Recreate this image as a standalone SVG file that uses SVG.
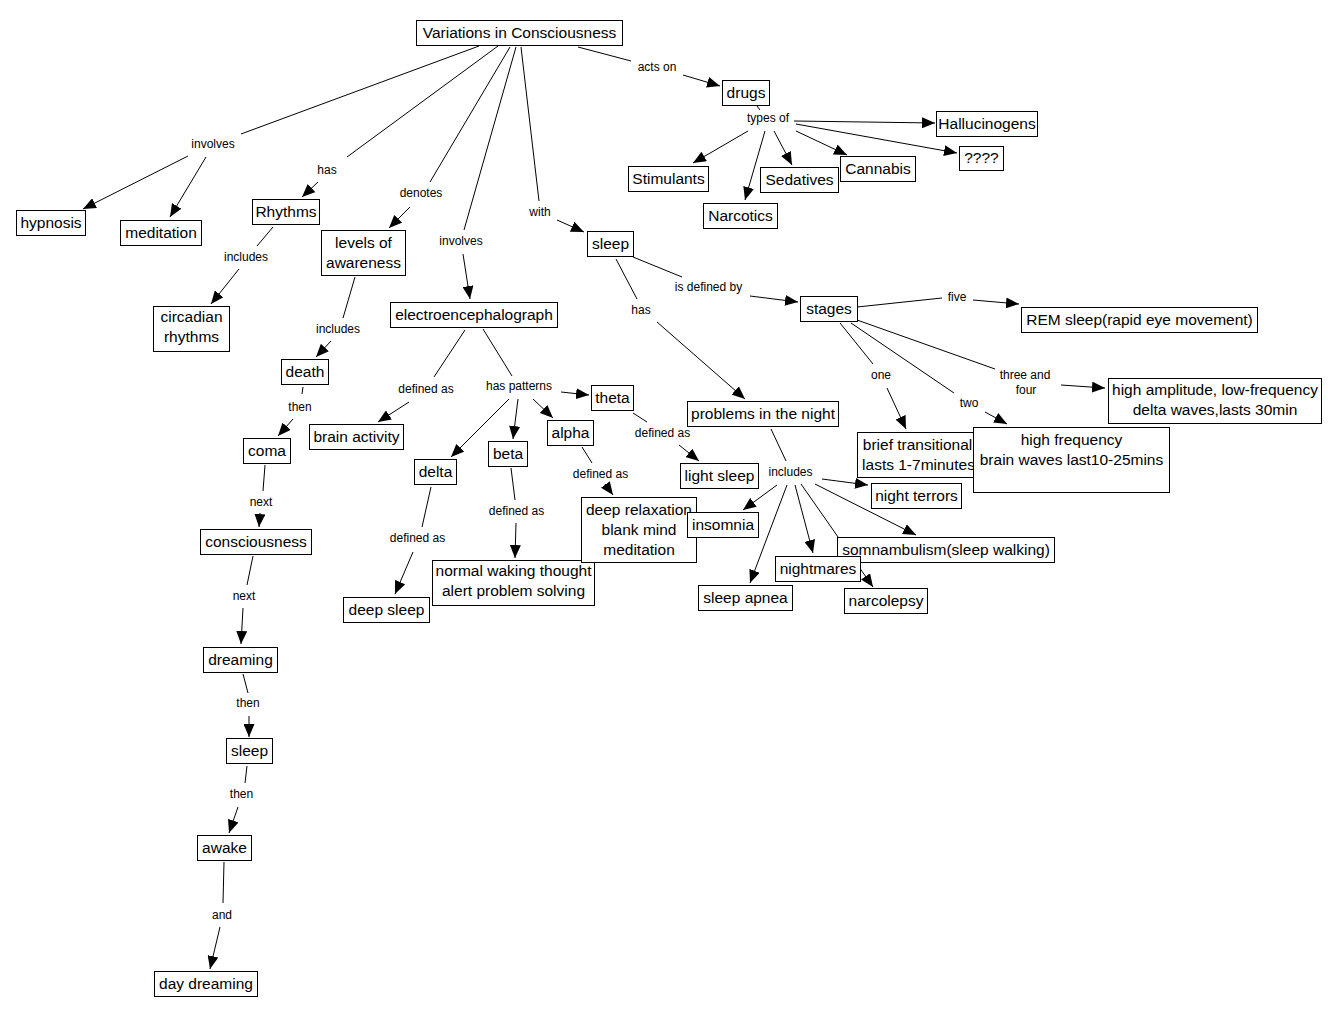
<svg xmlns="http://www.w3.org/2000/svg" width="1330" height="1016" viewBox="0 0 1330 1016">
<style>
.n rect{fill:#fff;stroke:#000;stroke-width:1}
.n text{font-family:"Liberation Sans",Arial,sans-serif;font-size:15.5px;text-anchor:middle;fill:#000;transform:translateY(-1px)}
#connectors line{stroke:#000;stroke-width:1;fill:none}
#connectors line.a{marker-end:url(#ah)}
#connectors text{font-family:"Liberation Sans",Arial,sans-serif;font-size:12px;text-anchor:middle;fill:#000;transform:translateY(-0.5px)}
</style>
<defs>
<marker id="ah" markerUnits="userSpaceOnUse" markerWidth="13" markerHeight="11" refX="13" refY="5.5" orient="auto"><path d="M0,0 L13,5.5 L0,11 z" fill="#000"/></marker>
</defs>
<rect width="1330" height="1016" fill="#fff"/>
<g id="connectors">
<line x1="479" y1="46" x2="241" y2="134"/><line class="a" x1="188" y1="156" x2="83" y2="209"/><line class="a" x1="206" y1="157" x2="170" y2="217"/><text x="213" y="148">involves</text>
<line x1="498" y1="46" x2="347" y2="157"/><line class="a" x1="318" y1="182" x2="302" y2="197"/><text x="327" y="174">has</text>
<line x1="510" y1="47" x2="430" y2="182"/><line class="a" x1="410" y1="207" x2="389" y2="228"/><text x="421" y="197.5">denotes</text>
<line x1="516" y1="47" x2="464" y2="230"/><line class="a" x1="463" y1="254" x2="470" y2="299"/><text x="461" y="245.5">involves</text>
<line x1="521" y1="47" x2="539" y2="201"/><line class="a" x1="557" y1="220" x2="584" y2="232"/><text x="540" y="216">with</text>
<line x1="578" y1="47" x2="631" y2="61"/><line class="a" x1="683" y1="75" x2="720" y2="86"/><text x="657" y="71">acts on</text>
<line x1="757" y1="106" x2="760" y2="110"/><text x="768" y="122">types of</text>
<line class="a" x1="748" y1="131" x2="693" y2="163"/><line class="a" x1="765" y1="131" x2="745" y2="200"/><line class="a" x1="774" y1="131" x2="792" y2="165"/><line class="a" x1="796" y1="131" x2="847" y2="155"/><line class="a" x1="794" y1="121" x2="935" y2="123"/><line class="a" x1="796" y1="124" x2="957" y2="153"/>
<line x1="273" y1="227" x2="257" y2="246"/><line class="a" x1="239" y1="269" x2="211" y2="304"/><text x="246" y="261">includes</text>
<line x1="355" y1="277" x2="343" y2="318"/><line class="a" x1="331" y1="341" x2="316" y2="357"/><text x="338" y="333">includes</text>
<line x1="303" y1="387" x2="302" y2="394"/><line class="a" x1="293" y1="419" x2="278" y2="436"/><text x="300" y="411">then</text>
<line x1="265" y1="465" x2="263" y2="491"/><line class="a" x1="260" y1="513" x2="259" y2="527"/><text x="261" y="506">next</text>
<line x1="253" y1="556" x2="247" y2="585"/><line class="a" x1="243" y1="608" x2="241" y2="644"/><text x="244" y="600">next</text>
<line x1="243" y1="674" x2="248" y2="693"/><line class="a" x1="249" y1="716" x2="249" y2="737"/><text x="248" y="707.5">then</text>
<line x1="247" y1="766" x2="245" y2="783"/><line class="a" x1="238" y1="807" x2="229" y2="833"/><text x="241.5" y="798.5">then</text>
<line x1="224" y1="862" x2="223" y2="903"/><line class="a" x1="220" y1="927" x2="210" y2="969"/><text x="222" y="919">and</text>
<line x1="465" y1="330" x2="434" y2="377"/><line class="a" x1="409" y1="402" x2="378" y2="422"/><text x="426" y="393">defined as</text>
<line x1="483" y1="329" x2="512" y2="376"/><text x="519" y="390">has patterns</text>
<line class="a" x1="561" y1="392" x2="589" y2="395"/><line class="a" x1="533" y1="399" x2="553" y2="418"/><line class="a" x1="518" y1="399" x2="513" y2="439"/><line class="a" x1="509" y1="399" x2="451" y2="457"/>
<line x1="633" y1="413" x2="647" y2="422"/><line class="a" x1="679" y1="445" x2="699" y2="461"/><text x="662.5" y="437">defined as</text>
<line x1="582" y1="447" x2="592" y2="463"/><line class="a" x1="605" y1="484" x2="613" y2="495"/><text x="600.5" y="478.5">defined as</text>
<line x1="511" y1="468" x2="515" y2="500"/><line class="a" x1="516" y1="523" x2="515" y2="558"/><text x="516.5" y="515">defined as</text>
<line x1="431" y1="487" x2="422" y2="527"/><line class="a" x1="413" y1="552" x2="395" y2="594"/><text x="417.5" y="542.5">defined as</text>
<line x1="616" y1="259" x2="637" y2="299"/><line class="a" x1="657" y1="322" x2="745" y2="399"/><text x="641" y="314">has</text>
<line x1="633" y1="257" x2="682" y2="277"/><line class="a" x1="750" y1="296" x2="798" y2="302"/><text x="708.5" y="291.5">is defined by</text>
<line x1="857" y1="307" x2="942" y2="298"/><line class="a" x1="973" y1="300" x2="1019" y2="304"/><text x="957" y="301.5">five</text>
<line x1="840" y1="323" x2="873" y2="364"/><line class="a" x1="887" y1="388" x2="906" y2="429"/><text x="881" y="379">one</text>
<line x1="851" y1="323" x2="954" y2="393"/><line class="a" x1="985" y1="412" x2="1007" y2="424"/><text x="969" y="407">two</text>
<line x1="857" y1="320" x2="995" y2="369"/><line class="a" x1="1061" y1="385" x2="1105" y2="388"/><text x="1025" y="379">three and</text><text x="1026" y="394">four</text>
<line x1="771" y1="429" x2="786" y2="461"/><text x="790.5" y="476">includes</text>
<line class="a" x1="822" y1="479" x2="868" y2="485"/><line class="a" x1="777" y1="485" x2="743" y2="510"/><line class="a" x1="787" y1="485" x2="750" y2="583"/><line class="a" x1="795" y1="485" x2="813" y2="553"/><line class="a" x1="801" y1="484" x2="873" y2="587"/><line class="a" x1="815" y1="484" x2="916" y2="535"/>
</g>
<g id="n-variations" class="n"><rect x="416.5" y="20.5" width="206" height="25"/><text x="519.5" y="38.5">Variations in Consciousness</text></g>
<g id="n-drugs" class="n"><rect x="722.5" y="80.5" width="47" height="25"/><text x="746" y="98.5">drugs</text></g>
<g id="n-stimulants" class="n"><rect x="628.5" y="166.5" width="80" height="25"/><text x="668.5" y="184.5">Stimulants</text></g>
<g id="n-narcotics" class="n"><rect x="703.5" y="203.5" width="74" height="25"/><text x="740.5" y="221.5">Narcotics</text></g>
<g id="n-sedatives" class="n"><rect x="760.5" y="167.5" width="78" height="25"/><text x="799.5" y="185.5">Sedatives</text></g>
<g id="n-cannabis" class="n"><rect x="840.5" y="156.5" width="75" height="25"/><text x="878" y="174.5">Cannabis</text></g>
<g id="n-hallucinogens" class="n"><rect x="936.5" y="111.5" width="101" height="25"/><text x="987" y="129.5">Hallucinogens</text></g>
<g id="n-unknown" class="n"><rect x="959.5" y="146.5" width="44" height="24"/><text x="981.5" y="164">????</text></g>
<g id="n-hypnosis" class="n"><rect x="16.5" y="210.5" width="69" height="25"/><text x="51" y="228.5">hypnosis</text></g>
<g id="n-meditation" class="n"><rect x="120.5" y="220.5" width="81" height="25"/><text x="161" y="238.5">meditation</text></g>
<g id="n-rhythms" class="n"><rect x="252.5" y="199.5" width="67" height="25"/><text x="286" y="217.5">Rhythms</text></g>
<g id="n-levels" class="n"><rect x="321.5" y="230.5" width="84" height="45"/><text x="363.5" y="248.5">levels of</text><text x="363.5" y="268.5">awareness</text></g>
<g id="n-circadian" class="n"><rect x="153.5" y="306.5" width="76" height="45"/><text x="191.5" y="322.5">circadian</text><text x="191.5" y="342.5">rhythms</text></g>
<g id="n-eeg" class="n"><rect x="390.5" y="302.5" width="167" height="25"/><text x="474" y="320.5">electroencephalograph</text></g>
<g id="n-death" class="n"><rect x="281.5" y="359.5" width="47" height="25"/><text x="305" y="377.5">death</text></g>
<g id="n-brainactivity" class="n"><rect x="309.5" y="424.5" width="94" height="25"/><text x="356.5" y="442.5">brain activity</text></g>
<g id="n-coma" class="n"><rect x="243.5" y="438.5" width="47" height="25"/><text x="267" y="456.5">coma</text></g>
<g id="n-consciousness" class="n"><rect x="200.5" y="529.5" width="111" height="25"/><text x="256" y="547.5">consciousness</text></g>
<g id="n-dreaming" class="n"><rect x="203.5" y="647.5" width="74" height="25"/><text x="240.5" y="665.5">dreaming</text></g>
<g id="n-sleep2" class="n"><rect x="226.5" y="738.5" width="46" height="25"/><text x="249.5" y="756.5">sleep</text></g>
<g id="n-awake" class="n"><rect x="197.5" y="835.5" width="54" height="25"/><text x="224.5" y="853.5">awake</text></g>
<g id="n-daydreaming" class="n"><rect x="154.5" y="971.5" width="103" height="25"/><text x="206" y="989.5">day dreaming</text></g>
<g id="n-theta" class="n"><rect x="591.5" y="385.5" width="42" height="25"/><text x="612.5" y="403.5">theta</text></g>
<g id="n-alpha" class="n"><rect x="547.5" y="420.5" width="46" height="25"/><text x="570.5" y="438.5">alpha</text></g>
<g id="n-beta" class="n"><rect x="488.5" y="441.5" width="39" height="25"/><text x="508" y="459.5">beta</text></g>
<g id="n-delta" class="n"><rect x="414.5" y="459.5" width="42" height="25"/><text x="435.5" y="477.5">delta</text></g>
<g id="n-deepsleep" class="n"><rect x="343.5" y="597.5" width="86" height="25"/><text x="386.5" y="615.5">deep sleep</text></g>
<g id="n-normal" class="n"><rect x="432.5" y="560.5" width="162" height="45"/><text x="513.5" y="576.5">normal waking thought</text><text x="513.5" y="596.5">alert problem solving</text></g>
<g id="n-deeprelax" class="n"><rect x="581.5" y="497.5" width="115" height="65"/><text x="639" y="515.5">deep relaxation</text><text x="639" y="535.5">blank mind</text><text x="639" y="555.5">meditation</text></g>
<g id="n-lightsleep" class="n"><rect x="680.5" y="463.5" width="78" height="25"/><text x="719.5" y="481.5">light sleep</text></g>
<g id="n-sleep" class="n"><rect x="587.5" y="231.5" width="46" height="25"/><text x="610.5" y="249.5">sleep</text></g>
<g id="n-stages" class="n"><rect x="800.5" y="296.5" width="57" height="25"/><text x="829" y="314.5">stages</text></g>
<g id="n-rem" class="n"><rect x="1021.5" y="307.5" width="236" height="25"/><text x="1139.5" y="325.5">REM sleep(rapid eye movement)</text></g>
<g id="n-highamp" class="n"><rect x="1108.5" y="378.5" width="213" height="45"/><text x="1215" y="395.5">high amplitude, low-frequency</text><text x="1215" y="415.5">delta waves,lasts 30min</text></g>
<g id="n-problems" class="n"><rect x="687.5" y="401.5" width="151" height="25"/><text x="763" y="419.5">problems in the night</text></g>
<g id="n-brief" class="n"><rect x="857.5" y="432.5" width="120" height="45"/><text x="917.5" y="450.5">brief transitional</text><text x="918.5" y="470.5">lasts 1-7minutes</text></g>
<g id="n-highfreq" class="n"><rect x="973.5" y="427.5" width="196" height="65"/><text x="1071.5" y="446">high frequency</text><text x="1071.5" y="466">brain waves last10-25mins</text></g>
<g id="n-nightterrors" class="n"><rect x="871.5" y="483.5" width="90" height="25"/><text x="916.5" y="501.5">night terrors</text></g>
<g id="n-insomnia" class="n"><rect x="687.5" y="512.5" width="71" height="25"/><text x="723" y="530.5">insomnia</text></g>
<g id="n-sleepapnea" class="n"><rect x="698.5" y="585.5" width="94" height="25"/><text x="745.5" y="603.5">sleep apnea</text></g>
<g id="n-narcolepsy" class="n"><rect x="844.5" y="588.5" width="83" height="25"/><text x="886" y="606.5">narcolepsy</text></g>
<g id="n-somnambulism" class="n"><rect x="837.5" y="537.5" width="217" height="25"/><text x="946" y="555.5">somnambulism(sleep walking)</text></g>
<g id="n-nightmares" class="n"><rect x="775.5" y="556.5" width="85" height="25"/><text x="818" y="574.5">nightmares</text></g>
</svg>
